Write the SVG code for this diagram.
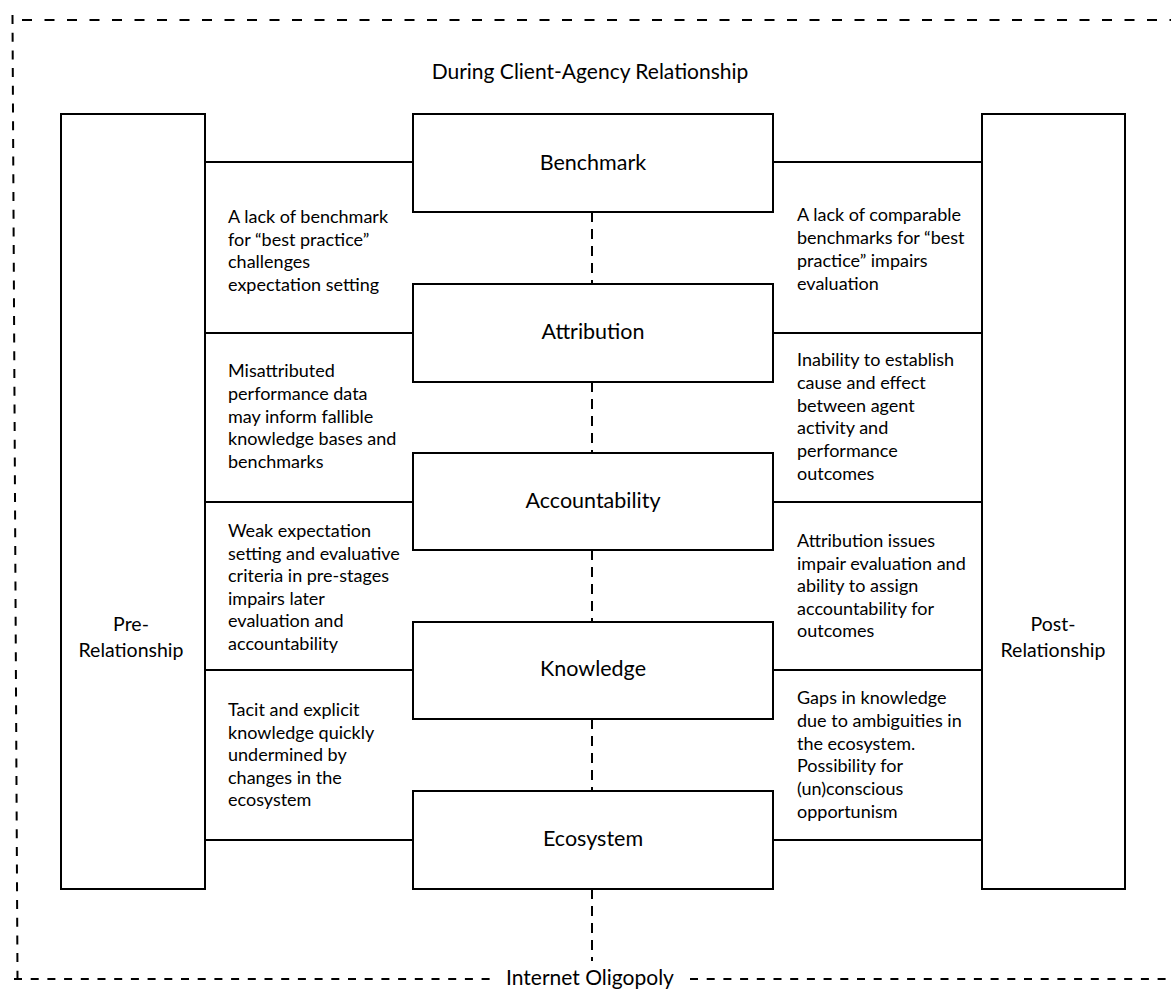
<svg xmlns="http://www.w3.org/2000/svg" width="1171" height="990" viewBox="0 0 1171 990">
  <style>
    .box { fill: #fff; stroke: #000; stroke-width: 2; }
    .link { stroke: #000; stroke-width: 2; fill: none; }
    .dash { stroke: #000; stroke-width: 2; fill: none; stroke-dasharray: 10 7; }
    .frame { stroke: #000; stroke-width: 2; fill: none; }
    text { font-family: Lato, "Liberation Sans", sans-serif; fill: #000; }
    .body { font-size: 18px; }
    .label { font-size: 21.5px; text-anchor: middle; }
    .side { font-size: 19.5px; text-anchor: middle; }
    .title { font-size: 21px; text-anchor: middle; }
  </style>

  <!-- outer dashed frame -->
  <g id="frame">
    <line class="frame" x1="22" y1="20" x2="1171" y2="20" stroke-dasharray="10 12.5"/>
    <line class="frame" x1="12.5" y1="15" x2="17.5" y2="979" stroke-dasharray="9 8.7"/>
    <line class="frame" x1="14" y1="979" x2="497" y2="979" stroke-dasharray="8 8.7"/>
    <line class="frame" x1="690" y1="979" x2="1171" y2="979" stroke-dasharray="8 8.7"/>
    <text class="title" x="590" y="79">During Client-Agency Relationship</text>
    <text class="title" x="590" y="985">Internet Oligopoly</text>
  </g>

  <!-- connectors -->
  <g id="connectors">
    <line class="link" x1="205" y1="162" x2="413" y2="162"/>
    <line class="link" x1="203" y1="333" x2="413" y2="333"/>
    <line class="link" x1="205" y1="502" x2="413" y2="502"/>
    <line class="link" x1="205" y1="670" x2="413" y2="670"/>
    <line class="link" x1="205" y1="840" x2="413" y2="840"/>
    <line class="link" x1="773" y1="162" x2="982" y2="162"/>
    <line class="link" x1="773" y1="333" x2="982" y2="333"/>
    <line class="link" x1="773" y1="502" x2="982" y2="502"/>
    <line class="link" x1="773" y1="670" x2="982" y2="670"/>
    <line class="link" x1="773" y1="840" x2="982" y2="840"/>
    <line class="dash" x1="592" y1="212" x2="592" y2="284"/>
    <line class="dash" x1="592" y1="382" x2="592" y2="453"/>
    <line class="dash" x1="592" y1="550" x2="592" y2="622"/>
    <line class="dash" x1="592" y1="719" x2="592" y2="791"/>
    <line class="dash" x1="592" y1="889" x2="592" y2="961"/>
  </g>

  <!-- side stages -->
  <g id="pre-relationship">
    <rect class="box" x="61" y="114" width="144" height="775"/>
    <text class="side" x="131" y="631">Pre-</text>
    <text class="side" x="131" y="657">Relationship</text>
  </g>
  <g id="post-relationship">
    <rect class="box" x="982" y="114" width="143" height="775"/>
    <text class="side" x="1053" y="631">Post-</text>
    <text class="side" x="1053" y="657">Relationship</text>
  </g>

  <!-- central themes -->
  <g id="benchmark">
    <rect class="box" x="413" y="114" width="360" height="98"/>
    <text class="label" x="593" y="170">Benchmark</text>
  </g>
  <g id="attribution">
    <rect class="box" x="413" y="284" width="360" height="98"/>
    <text class="label" x="593" y="339">Attribution</text>
  </g>
  <g id="accountability">
    <rect class="box" x="413" y="453" width="360" height="97"/>
    <text class="label" x="593" y="508">Accountability</text>
  </g>
  <g id="knowledge">
    <rect class="box" x="413" y="622" width="360" height="97"/>
    <text class="label" x="593" y="676">Knowledge</text>
  </g>
  <g id="ecosystem">
    <rect class="box" x="413" y="791" width="360" height="98"/>
    <text class="label" x="593" y="846">Ecosystem</text>
  </g>

  <!-- pre-relationship effects -->
  <g id="pre-benchmark">
    <text class="body" x="228" y="223">A lack of benchmark</text>
    <text class="body" x="228" y="245.5">for “best practice”</text>
    <text class="body" x="228" y="268">challenges</text>
    <text class="body" x="228" y="290.5">expectation setting</text>
  </g>
  <g id="pre-attribution">
    <text class="body" x="228" y="377">Misattributed</text>
    <text class="body" x="228" y="399.8">performance data</text>
    <text class="body" x="228" y="422.6">may inform fallible</text>
    <text class="body" x="228" y="445.4">knowledge bases and</text>
    <text class="body" x="228" y="468.2">benchmarks</text>
  </g>
  <g id="pre-accountability">
    <text class="body" x="228" y="537">Weak expectation</text>
    <text class="body" x="228" y="559.5">setting and evaluative</text>
    <text class="body" x="228" y="582">criteria in pre-stages</text>
    <text class="body" x="228" y="604.5">impairs later</text>
    <text class="body" x="228" y="627">evaluation and</text>
    <text class="body" x="228" y="649.5">accountability</text>
  </g>
  <g id="pre-knowledge">
    <text class="body" x="228" y="716">Tacit and explicit</text>
    <text class="body" x="228" y="738.6">knowledge quickly</text>
    <text class="body" x="228" y="761.2">undermined by</text>
    <text class="body" x="228" y="783.8">changes in the</text>
    <text class="body" x="228" y="806.4">ecosystem</text>
  </g>

  <!-- post-relationship effects -->
  <g id="post-benchmark">
    <text class="body" x="797" y="221">A lack of comparable</text>
    <text class="body" x="797" y="244">benchmarks for “best</text>
    <text class="body" x="797" y="267">practice” impairs</text>
    <text class="body" x="797" y="290">evaluation</text>
  </g>
  <g id="post-attribution">
    <text class="body" x="797" y="366">Inability to establish</text>
    <text class="body" x="797" y="388.8">cause and effect</text>
    <text class="body" x="797" y="411.6">between agent</text>
    <text class="body" x="797" y="434.4">activity and</text>
    <text class="body" x="797" y="457.2">performance</text>
    <text class="body" x="797" y="480">outcomes</text>
  </g>
  <g id="post-accountability">
    <text class="body" x="797" y="547">Attribution issues</text>
    <text class="body" x="797" y="569.5">impair evaluation and</text>
    <text class="body" x="797" y="592">ability to assign</text>
    <text class="body" x="797" y="614.5">accountability for</text>
    <text class="body" x="797" y="637">outcomes</text>
  </g>
  <g id="post-knowledge">
    <text class="body" x="797" y="704">Gaps in knowledge</text>
    <text class="body" x="797" y="726.8">due to ambiguities in</text>
    <text class="body" x="797" y="749.6">the ecosystem.</text>
    <text class="body" x="797" y="772.4">Possibility for</text>
    <text class="body" x="797" y="795.2">(un)conscious</text>
    <text class="body" x="797" y="818">opportunism</text>
  </g>
</svg>
